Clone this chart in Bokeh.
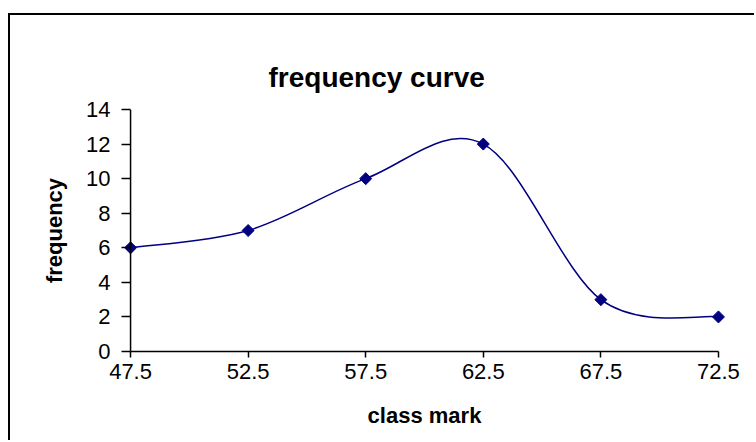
import numpy as np
from bokeh.plotting import figure
from bokeh.models import FixedTicker, Range1d, LinearAxis, Span
from bokeh.embed import file_html
from bokeh.resources import INLINE

# ---- data ----
class_mark = [47.5, 52.5, 57.5, 62.5, 67.5, 72.5]
frequency = [6, 7, 10, 12, 3, 2]
y_ticks = [0, 2, 4, 6, 8, 10, 12, 14]
x_tick_labels = ["47.5", "52.5", "57.5", "62.5", "67.5", "72.5"]
title_text = "frequency curve"
x_label = "class mark"
y_label = "frequency"

NAVY = "#000080"
FONT = "Liberation Sans"

# smoothed line (Excel-like): Catmull-Rom control points -> cubic Bezier segments
xs = np.array(class_mark, dtype=float)
ys = np.array(frequency, dtype=float)
n = len(xs)
px = np.concatenate([[xs[0]], xs, [xs[-1]]])
py = np.concatenate([[ys[0]], ys, [ys[-1]]])
c1x = px[1:n] + (px[2:n + 1] - px[0:n - 1]) / 6
c1y = py[1:n] + (py[2:n + 1] - py[0:n - 1]) / 6
c2x = px[2:n + 1] - (px[3:n + 2] - px[1:n]) / 6
c2y = py[2:n + 1] - (py[3:n + 2] - py[1:n]) / 6

pad = 0.3
p = figure(width=746, height=427,
           x_range=Range1d(xs[0] - pad, xs[-1] + pad), y_range=Range1d(0, 14),
           output_backend="svg", toolbar_location=None,
           x_axis_location=None, y_axis_location=None,
           min_border_left=113, min_border_right=31,
           min_border_top=94, min_border_bottom=91)
p.styles = {"border-left": "2px solid black", "border-top": "2px solid black",
            "margin-left": "8px", "margin-top": "13px"}
p.grid.visible = False
p.outline_line_color = None
p.background_fill_color = "white"
p.border_fill_color = "white"

p.bezier(x0=xs[:-1], y0=ys[:-1], x1=xs[1:], y1=ys[1:],
         cx0=c1x, cy0=c1y, cx1=c2x, cy1=c2y,
         line_color=NAVY, line_width=1.5)
p.scatter(class_mark, frequency, marker="square", angle=np.pi / 4, size=8.5,
          fill_color=NAVY, line_color=NAVY)

xaxis = LinearAxis(ticker=FixedTicker(ticks=class_mark), bounds=(xs[0], xs[-1]),
                   axis_label=x_label,
                   major_label_overrides={v: t for v, t in zip(class_mark, x_tick_labels)})
yaxis = LinearAxis(ticker=FixedTicker(ticks=y_ticks), bounds=(0, 14),
                   axis_label=y_label)
for ax in (xaxis, yaxis):
    ax.axis_line_color = "black"
    ax.axis_line_width = 1.5
    ax.major_tick_line_color = "black"
    ax.major_tick_line_width = 1.5
    ax.minor_tick_out = 0
    ax.minor_tick_in = 0
    ax.major_label_text_font = FONT
    ax.major_label_text_font_size = "22px"
    ax.major_label_text_color = "black"
    ax.axis_label_text_font = FONT
    ax.axis_label_text_font_size = "22px"
    ax.axis_label_text_font_style = "bold"
    ax.axis_label_text_color = "black"
xaxis.major_tick_out = 6
xaxis.major_tick_in = 0
xaxis.major_label_standoff = 6
xaxis.axis_label_standoff = 21
# y axis sits at x = 47.5, which is a few pixels inside the frame's left edge
yaxis.axis_line_color = None
yaxis.major_tick_out = 2
yaxis.major_tick_in = 7
yaxis.major_label_standoff = 11
yaxis.axis_label_standoff = 16
p.add_layout(xaxis, "below")
p.add_layout(yaxis, "left")
p.add_layout(Span(location=xs[0], dimension="height", line_color="black", line_width=1.5))

p.title.text = title_text
p.title.align = "left"
p.title.text_font = FONT
p.title.text_font_size = "28px"
p.title.text_font_style = "bold"
p.title.text_color = "black"
p.title.offset = 145
p.title.standoff = 34

open("out.html", "w").write(file_html(p, INLINE))
